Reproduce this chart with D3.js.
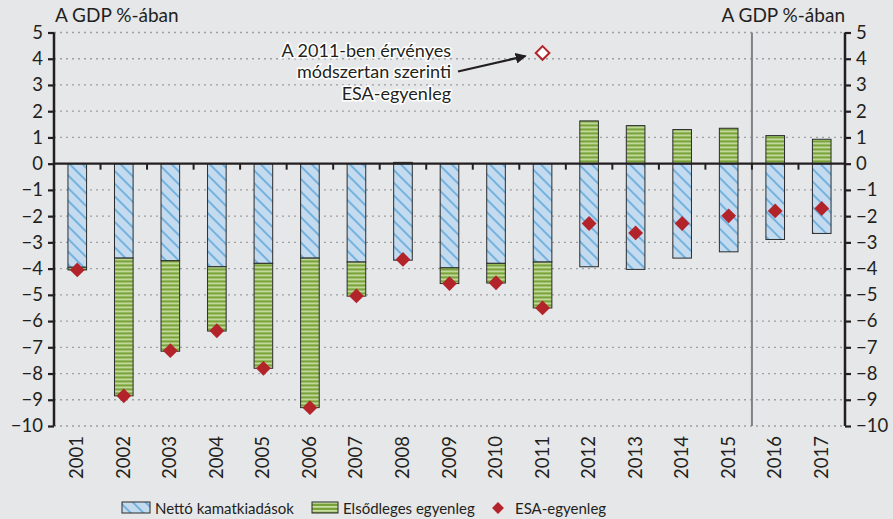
<!DOCTYPE html>
<html>
<head>
<meta charset="utf-8">
<script src="https://cdn.jsdelivr.net/npm/d3@7"></script>
<style>
  body { margin: 0; background: #e6e7e9; }
  text { font-family: Lato, "Open Sans", sans-serif; fill: #231f20; }
</style>
</head>
<body>
<div id="chart"></div>
<script>
// data (% of GDP)
const years = ["2001","2002","2003","2004","2005","2006","2007","2008","2009","2010","2011","2012","2013","2014","2015","2016","2017"];
const interest = [-3.95,-3.6,-3.7,-3.93,-3.8,-3.6,-3.75,-3.68,-3.97,-3.8,-3.75,-3.93,-4.03,-3.6,-3.36,-2.89,-2.66];
const primary = [-0.1,-5.25,-3.45,-2.45,-4.0,-5.7,-1.3,0.05,-0.6,-0.75,-1.75,1.63,1.45,1.3,1.35,1.07,0.93];
const esa = [-4.05,-8.85,-7.13,-6.37,-7.8,-9.3,-5.04,-3.65,-4.57,-4.54,-5.5,-2.28,-2.64,-2.28,-1.99,-1.8,-1.71];
const esaOld = [{year: "2011", value: 4.22}];
const yTicks = [5,4,3,2,1,0,-1,-2,-3,-4,-5,-6,-7,-8,-9,-10];
const unitLabel = "A GDP %-ában";
const noteLines = ["A 2011-ben érvényes", "módszertan szerinti", "ESA-egyenleg"];
const legendItems = ["Nettó kamatkiadások", "Elsődleges egyenleg", "ESA-egyenleg"];

const size = {width: 893, height: 519};
const margin = {top: 32.5, right: 48, bottom: 93, left: 54};
const width = size.width - margin.left - margin.right;
const height = size.height - margin.top - margin.bottom;

const red = "#b3232a";
const fmt = d => d < 0 ? "\u2212" + Math.abs(d) : String(d);

const svg = d3.select("#chart").append("svg")
    .attr("width", size.width)
    .attr("height", size.height)
    .style("background", "#e6e7e9");

// fill patterns
const defs = svg.append("defs");
const blue = defs.append("pattern")
    .attr("id", "blueHatch")
    .attr("patternUnits", "userSpaceOnUse")
    .attr("width", 9).attr("height", 9)
    .attr("patternTransform", "rotate(45)");
blue.append("rect").attr("width", 9).attr("height", 9).attr("fill", "#c4dbef");
blue.append("line").attr("x1", 0).attr("x2", 9).attr("y1", 1).attr("y2", 1)
    .attr("stroke", "#5fa8da").attr("stroke-width", 1.6);

const green = defs.append("pattern")
    .attr("id", "greenStripe")
    .attr("patternUnits", "userSpaceOnUse")
    .attr("width", 8).attr("height", 4);
green.append("rect").attr("width", 8).attr("height", 4).attr("fill", "#76a238");
green.append("rect").attr("y", 2).attr("width", 8).attr("height", 1.7).attr("fill", "#cde0a8");

const g = svg.append("g")
    .attr("transform", "translate(" + margin.left + "," + margin.top + ")");

const xScale = d3.scaleBand().domain(years).range([0, width]).paddingInner(0.6).paddingOuter(0.3);
const yScale = d3.scaleLinear().domain([-10, 5]).range([height, 0]);
const step = xScale.step();

// dotted grid
g.append("g").selectAll("line")
    .data(yTicks.filter(d => d !== 0))
    .join("line")
    .attr("x1", 0).attr("x2", width)
    .attr("y1", d => yScale(d)).attr("y2", d => yScale(d))
    .attr("stroke", "#9d9fa2")
    .attr("stroke-width", 1.3)
    .attr("stroke-dasharray", "2,4");

// stacked bars: interest from zero, primary balance below it (or above zero if positive)
const rows = years.map((year, i) => {
    const a = interest[i], p = primary[i];
    const pStart = p < 0 ? a : 0;
    return {year, a, p, pStart};
});

const barW = xScale.bandwidth();
const barG = g.append("g");
barG.selectAll(".interestBar")
    .data(rows)
    .join("rect")
    .attr("class", "interestBar")
    .attr("x", d => xScale(d.year))
    .attr("width", barW)
    .attr("y", d => yScale(0))
    .attr("height", d => yScale(d.a) - yScale(0))
    .attr("fill", "url(#blueHatch)")
    .attr("stroke", "#2b2b2b")
    .attr("stroke-width", 1);

barG.selectAll(".primaryBar")
    .data(rows)
    .join("rect")
    .attr("class", "primaryBar")
    .attr("x", d => xScale(d.year))
    .attr("width", barW)
    .attr("y", d => yScale(Math.max(d.pStart, d.pStart + d.p)))
    .attr("height", d => Math.abs(yScale(d.pStart + d.p) - yScale(d.pStart)))
    .attr("fill", "url(#greenStripe)")
    .attr("stroke", "#2b2b2b")
    .attr("stroke-width", 1);

// separator between actual and forecast years
const sepX = xScale("2016") - xScale.paddingInner() * step / 2;
g.append("line")
    .attr("x1", sepX).attr("x2", sepX)
    .attr("y1", 0).attr("y2", height)
    .attr("stroke", "#808285")
    .attr("stroke-width", 2);

// zero line with downward ticks at category boundaries
const zeroY = yScale(0);
g.append("line")
    .attr("x1", 0).attr("x2", width)
    .attr("y1", zeroY).attr("y2", zeroY)
    .attr("stroke", "#231f20").attr("stroke-width", 2.2);
g.append("g").selectAll("line")
    .data(d3.range(1, years.length))
    .join("line")
    .attr("x1", i => i * step).attr("x2", i => i * step)
    .attr("y1", zeroY).attr("y2", zeroY + 6)
    .attr("stroke", "#231f20").attr("stroke-width", 2);

// y axes on both sides
const yAxisL = g.append("g").call(d3.axisLeft(yScale).tickValues(yTicks).tickFormat(fmt).tickSize(6).tickPadding(5));
const yAxisR = g.append("g").attr("transform", "translate(" + width + ",0)")
    .call(d3.axisRight(yScale).tickValues(yTicks).tickFormat(fmt).tickSize(6).tickPadding(5));
[yAxisL, yAxisR].forEach(ax => {
    ax.select(".domain").attr("stroke", "#231f20").attr("stroke-width", 2.5)
        .attr("d", "M0,0V" + height);
    ax.selectAll(".tick line").attr("stroke", "#231f20").attr("stroke-width", 2.2);
    ax.selectAll(".tick text").style("font-size", "18.5px").attr("fill", "#231f20");
});

// year labels, rotated
g.append("g").selectAll("text")
    .data(years)
    .join("text")
    .attr("transform", d => "translate(" + (xScale(d) + barW / 2 + 6) + "," + (height + 10) + ") rotate(-90)")
    .attr("text-anchor", "end")
    .style("font-size", "18.5px")
    .text(d => d);

// ESA balance diamonds
const diamond = d3.symbol().type(d3.symbolDiamond2).size(140);
g.append("g").selectAll("path")
    .data(years.map((year, i) => ({year, v: esa[i]})))
    .join("path")
    .attr("d", diamond)
    .attr("transform", d => "translate(" + (xScale(d.year) + barW / 2) + "," + yScale(d.v) + ")")
    .attr("fill", red);

// old-methodology ESA point (hollow)
g.append("g").selectAll("path")
    .data(esaOld)
    .join("path")
    .attr("d", d3.symbol().type(d3.symbolDiamond2).size(120))
    .attr("transform", d => "translate(" + (xScale(d.year) + barW / 2) + "," + yScale(d.value) + ")")
    .attr("fill", "#fff")
    .attr("stroke", red)
    .attr("stroke-width", 2);

// annotation
defs.append("marker")
    .attr("id", "arrow")
    .attr("viewBox", "0 0 10 10")
    .attr("refX", 9).attr("refY", 5)
    .attr("markerWidth", 5).attr("markerHeight", 5)
    .attr("orient", "auto")
    .append("path").attr("d", "M0,0L10,5L0,10z").attr("fill", "#231f20");
const old = esaOld[0];
const oldX = xScale(old.year) + barW / 2;
g.append("line")
    .attr("x1", 404).attr("x2", oldX - 17)
    .attr("y1", 39).attr("y2", yScale(old.value) + 3)
    .attr("stroke", "#231f20").attr("stroke-width", 2.2)
    .attr("marker-end", "url(#arrow)");
g.append("g").selectAll("text")
    .data(noteLines)
    .join("text")
    .attr("x", 397)
    .attr("y", (d, i) => 24 + i * 21.5)
    .attr("text-anchor", "end")
    .style("font-size", "18px")
    .style("stroke", "#fff").style("stroke-width", 3).style("paint-order", "stroke")
    .text(d => d);

// unit labels
svg.append("text").attr("x", margin.left + 1).attr("y", 22).style("font-size", "19px").text(unitLabel);
svg.append("text").attr("x", margin.left + width).attr("y", 22).attr("text-anchor", "end").style("font-size", "19px").text(unitLabel);

// legend
const legend = svg.append("g").attr("transform", "translate(0,508)");
legend.append("rect").attr("x", 122).attr("y", -6).attr("width", 28).attr("height", 11)
    .attr("fill", "url(#blueHatch)").attr("stroke", "#2b2b2b");
legend.append("text").attr("x", 155).attr("y", 5.5).style("font-size", "15px").text(legendItems[0]);
legend.append("rect").attr("x", 312).attr("y", -6).attr("width", 26).attr("height", 11)
    .attr("fill", "url(#greenStripe)").attr("stroke", "#2b2b2b");
legend.append("text").attr("x", 343).attr("y", 5.5).style("font-size", "15px").text(legendItems[1]);
legend.append("path").attr("d", d3.symbol().type(d3.symbolDiamond2).size(90))
    .attr("transform", "translate(498,0)").attr("fill", red);
legend.append("text").attr("x", 515).attr("y", 5.5).style("font-size", "15px").text(legendItems[2]);
</script>
</body>
</html>
